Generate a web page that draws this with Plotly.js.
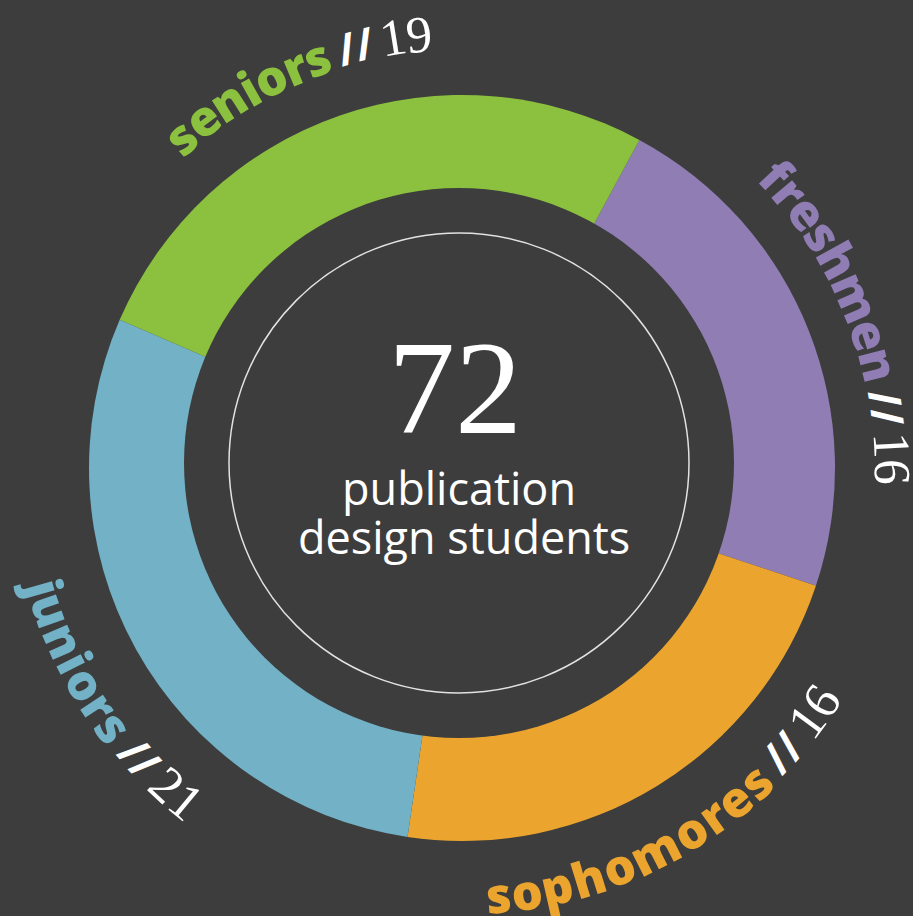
<!DOCTYPE html>
<html><head><meta charset="utf-8">
<script src="https://cdn.plot.ly/plotly-3.0.1.min.js"></script>
<style>html,body{margin:0;padding:0;background:#3d3d3d;overflow:hidden}</style>
</head><body><div id="chart" style="width:913px;height:916px"></div>
<script>
// ---- data ----
const categories = ['freshmen', 'sophomores', 'juniors', 'seniors'];
const counts = [16, 16, 21, 19];
const sliceColors = ['#8f7db4', '#eba52f', '#72b1c6', '#8cc13f'];
const totalLabel = '72';
const subtitleLines = ['publication', 'design students'];
const separator = '//';

// ---- layout helpers (pixel -> paper) ----
const W = 913, H = 916;
const px = x => x / W, py = y => 1 - y / H;
const BG = '#3d3d3d';
const pieC = {x: 462, y: 468, r: 373};
const holeC = {x: 459, y: 463, r: 275};
const ringR = 230;

// curved label placement: centre angle (deg, clockwise from 12 o'clock), radius, orientation
const labelGeom = {
  freshmen:   {angle: 69, r: 430, top: true},
  sophomores: {angle: 149, r: 428, top: false},
  juniors:    {angle: 236.5, r: 433, top: false},
  seniors:    {angle: -23, r: 436, top: true}
};

const canvas = document.createElement('canvas');
const ctx = canvas.getContext('2d');
function measure(ch, f) {
  ctx.font = `${f.weight || 400} ${f.size}px "${f.family}"`;
  return ctx.measureText(ch).width;
}

const annotations = [];
categories.forEach((cat, i) => {
  const g = labelGeom[cat];
  const pieces = [
    {t: cat, f: {family: 'Open Sans', weight: 800, size: 49, color: sliceColors[i]}},
    {t: ' ', f: {family: 'Open Sans', weight: 400, size: 36, color: '#fff'}},
    {t: separator, f: {family: 'Open Sans', weight: 700, size: 44, color: '#ffffff'}},
    {t: ' ', f: {family: 'Open Sans', weight: 400, size: 28, color: '#fff'}},
    {t: String(counts[i]), f: {family: 'Liberation Serif', weight: 400, size: 52, color: '#ffffff'}}
  ];
  const chars = [];
  pieces.forEach(p => { for (const ch of p.t) chars.push({ch, f: p.f, w: measure(ch, p.f)}); });
  const total = chars.reduce((s, c) => s + c.w, 0);
  const span = total / g.r * 180 / Math.PI;
  let cum = 0;
  chars.forEach(c => {
    const mid = (cum + c.w / 2) / g.r * 180 / Math.PI;
    cum += c.w;
    if (c.ch === ' ') return;
    const th = g.top ? g.angle - span / 2 + mid : g.angle + span / 2 - mid;
    const rad = th * Math.PI / 180;
    const x = pieC.x + g.r * Math.sin(rad);
    const y = pieC.y - g.r * Math.cos(rad);
    let ang = g.top ? th : th - 180;
    while (ang > 180) ang -= 360;
    while (ang <= -180) ang += 360;
    annotations.push({
      xref: 'paper', yref: 'paper', x: px(x), y: py(y),
      xanchor: 'center', yanchor: 'middle', showarrow: false,
      text: c.ch, textangle: ang, font: c.f
    });
  });
});

annotations.push({
  xref: 'paper', yref: 'paper', x: px(455), y: py(388), xanchor: 'center', yanchor: 'middle',
  showarrow: false, text: totalLabel,
  font: {family: 'Liberation Serif', size: 134, color: '#ffffff'}
});
annotations.push({
  xref: 'paper', yref: 'paper', x: px(459), y: py(487), xanchor: 'center', yanchor: 'middle',
  showarrow: false, text: subtitleLines[0],
  font: {family: 'Open Sans', size: 45, color: '#ffffff'}
});
annotations.push({
  xref: 'paper', yref: 'paper', x: px(464), y: py(536), xanchor: 'center', yanchor: 'middle',
  showarrow: false, text: subtitleLines[1],
  font: {family: 'Open Sans', size: 45, color: '#ffffff'}
});

const trace = {
  type: 'pie',
  labels: categories,
  values: counts,
  sort: false,
  direction: 'clockwise',
  rotation: 28.4,
  marker: {colors: sliceColors, line: {width: 0}},
  textinfo: 'none',
  hoverinfo: 'none',
  showlegend: false,
  domain: {x: [px(pieC.x - pieC.r), px(pieC.x + pieC.r)], y: [py(pieC.y + pieC.r), py(pieC.y - pieC.r)]}
};

const layout = {
  width: W, height: H,
  margin: {l: 0, r: 0, t: 0, b: 0},
  paper_bgcolor: BG, plot_bgcolor: BG,
  showlegend: false,
  shapes: [
    {type: 'circle', xref: 'paper', yref: 'paper', layer: 'above',
     x0: px(holeC.x - holeC.r), x1: px(holeC.x + holeC.r),
     y0: py(holeC.y + holeC.r), y1: py(holeC.y - holeC.r),
     fillcolor: BG, line: {width: 0}},
    {type: 'circle', xref: 'paper', yref: 'paper', layer: 'above',
     x0: px(holeC.x - ringR), x1: px(holeC.x + ringR),
     y0: py(holeC.y + ringR), y1: py(holeC.y - ringR),
     fillcolor: 'rgba(0,0,0,0)', line: {width: 1.5, color: 'rgba(255,255,255,0.85)'}}
  ],
  annotations: annotations
};

Plotly.newPlot('chart', [trace], layout, {displayModeBar: false, staticPlot: true});
</script>
</body></html>
